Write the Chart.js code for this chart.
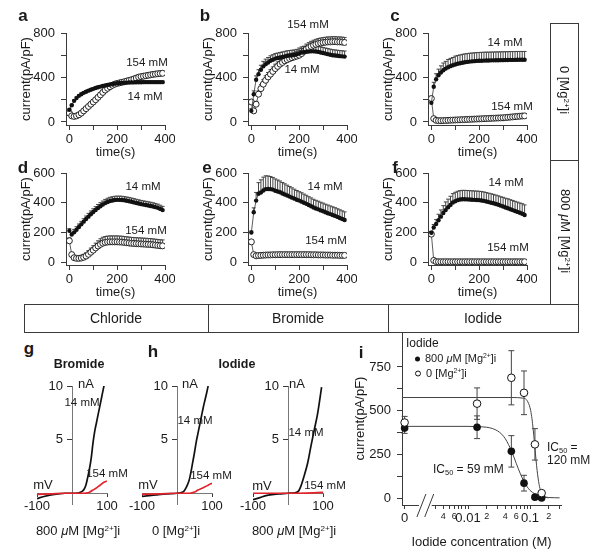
<!DOCTYPE html>
<html>
<head>
<meta charset="utf-8">
<title>Halide currents and [Mg2+]i</title>
<script src="https://cdn.jsdelivr.net/npm/chart.js@4.4.1/dist/chart.umd.min.js"></script>
<style>
  body { margin: 0; background: #fff; }
  #fig { position: relative; width: 600px; height: 558px; overflow: hidden; font-family: "Liberation Sans", Arial, Helvetica, sans-serif; color: #1a1a1a; }
  #fig canvas { position: absolute; }
  .t { position: absolute; white-space: nowrap; line-height: 1; transform: translate(-50%, -50%); }
  .t.l { transform: translate(0, -50%); }
  .pl { font-weight: bold; font-size: 17px; }
  .mm { font-size: 11.5px; }
  .hd { font-weight: bold; font-size: 12.5px; }
  .cap { font-size: 13px; }
  .box { position: absolute; border: 1px solid #3a3a3a; box-sizing: border-box; }
  .ln { position: absolute; background: #3a3a3a; }
  sup { font-size: 0.62em; position: relative; top: -0.55em; vertical-align: baseline; line-height: 0; }
  sub { font-size: 0.62em; position: relative; top: 0.3em; vertical-align: baseline; line-height: 0; }
  .dot { display: inline-block; width: 5px; height: 5px; border-radius: 50%; background: #111; margin-right: 5px; vertical-align: middle; }
  .ring { display: inline-block; width: 4px; height: 4px; border-radius: 50%; border: 1px solid #111; margin-right: 5px; vertical-align: middle; }
</style>
</head>
<body>
<div id="fig"></div>
<script>
// --- time course panels a-f: one point every 10 s ---
const TIME = [0,10,20,30,40,50,60,70,80,90,100,110,120,130,140,150,160,170,180,190,200,210,220,230,240,250,260,270,280,290,300,310,320,330,340,350,360,370,380,390];

// a: chloride, 0 [Mg2+]i
const A_14      = [110,150,190,215,235,250,262,272,282,290,298,305,312,318,323,328,333,337,341,345,348,350,352,353,354,355,356,356,357,357,357,358,358,358,358,358,358,358,358,358];
const A_14_ERR  = [6,8,10,10,10,10,10,10,10,10,10,10,10,10,10,10,10,10,10,10,10,10,10,10,10,10,10,10,10,10,10,10,10,10,10,10,10,10,10,10];
const A_154     = [80,55,50,55,65,80,100,120,140,160,180,200,222,244,266,287,303,317,330,340,347,352,357,362,368,374,380,387,395,403,408,412,416,420,424,428,431,434,436,438];
const A_154_ERR = [8,8,8,8,10,10,12,12,14,14,15,15,15,15,16,16,16,16,16,16,16,16,16,16,16,16,16,16,16,16,16,16,16,16,16,16,16,16,16,16];

// b: bromide, 0 [Mg2+]i
const B_14      = [100,250,380,430,470,500,520,535,550,560,570,575,580,585,590,595,598,600,603,608,615,625,630,632,634,635,635,634,630,625,620,615,610,605,600,598,595,592,590,588];
const B_14_ERR  = [20,30,35,40,40,45,45,45,45,45,45,45,45,45,45,45,45,45,45,45,50,50,50,50,50,50,50,50,50,50,50,50,50,50,50,50,50,50,50,50];
const B_154     = [180,100,160,250,300,340,375,405,430,455,480,500,520,535,550,560,570,578,585,592,600,615,635,655,668,680,690,698,705,710,714,717,720,720,722,722,720,720,718,715];
const B_154_ERR = [20,20,25,30,35,40,40,40,40,40,40,40,40,40,40,40,40,40,40,40,45,45,45,45,45,45,45,45,45,45,45,45,45,45,45,45,45,45,45,45];

// c: iodide, 0 [Mg2+]i
const C_14      = [172,317,384,420,445,465,480,492,502,510,517,523,528,533,537,540,543,545,547,549,550,551,552,553,553,554,554,555,555,556,556,557,557,558,558,558,559,559,559,559];
const C_14_ERR  = [20,40,50,55,60,65,65,70,70,70,75,75,75,75,75,75,75,75,75,75,75,75,75,75,75,75,75,75,75,75,75,75,75,75,75,75,75,75,75,75];
const C_154     = [211,30,15,12,12,13,14,15,16,17,18,19,20,21,22,23,24,25,26,27,28,29,30,31,32,33,34,35,36,37,38,40,42,44,46,48,50,52,54,55];
const C_154_ERR = [10,6,6,6,6,6,6,6,6,6,8,8,8,8,8,8,8,8,8,8,8,8,8,8,8,8,8,8,8,8,8,8,8,8,8,8,8,8,8,8];

// d: chloride, 800 uM [Mg2+]i
const D_14      = [210,185,200,218,236,254,272,290,306,322,337,351,364,376,387,397,405,411,415,418,419,419,418,416,413,410,406,402,398,394,390,387,384,381,378,374,370,365,358,350];
const D_14_ERR  = [15,15,20,20,20,20,20,20,22,22,22,22,24,24,24,25,25,25,25,25,25,25,25,25,25,25,25,25,25,25,25,25,25,25,25,25,25,25,25,25];
const D_154     = [143,50,29,25,25,27,32,40,52,66,80,95,108,119,127,132,135,136,136,136,136,135,134,132,130,128,126,125,124,123,122,121,120,119,118,116,114,112,110,109];
const D_154_ERR = [20,15,12,12,15,18,20,22,25,28,30,32,35,38,40,40,40,40,40,40,40,40,40,40,40,40,40,40,40,40,40,40,40,40,40,40,40,40,40,40];

// e: bromide, 800 uM [Mg2+]i
const E_14      = [199,335,414,460,469,482,491,492,491,488,480,475,470,462,455,448,441,434,427,420,414,407,400,392,384,376,368,361,355,348,342,335,329,323,317,311,304,297,290,283];
const E_14_ERR  = [10,30,55,75,85,90,90,88,85,82,80,78,76,74,72,70,68,66,64,62,60,60,58,58,56,56,55,55,55,55,55,55,55,55,55,55,55,55,55,55];
const E_154     = [136,50,42,44,45,46,47,48,48,49,49,50,50,50,50,50,50,50,50,50,50,50,50,50,50,49,49,49,48,48,48,47,47,47,46,46,46,45,45,45];
const E_154_ERR = [10,8,8,8,8,8,8,8,8,8,8,8,8,8,8,8,8,8,8,8,8,8,8,8,8,8,8,8,8,8,8,8,8,8,8,8,8,8,8,8];

// f: iodide, 800 uM [Mg2+]i
const F_14      = [197,233,256,282,306,330,350,369,385,401,410,417,421,423,423,422,421,420,419,418,417,415,412,408,404,400,396,391,386,380,374,368,362,356,350,344,338,332,325,317];
const F_14_ERR  = [10,20,30,40,45,50,55,55,58,60,60,60,60,60,60,60,60,60,60,60,60,60,60,60,60,60,60,60,60,60,62,62,64,64,65,65,66,66,68,68];
const F_154     = [188,11,3,2,2,2,2,2,2,2,2,2,2,2,2,2,2,2,2,2,2,2,2,2,2,2,2,2,2,2,2,2,2,2,2,2,2,2,2,2];
const F_154_ERR = [5,4,4,4,4,4,4,4,4,4,4,4,4,4,4,4,4,4,4,4,4,4,4,4,4,4,4,4,4,4,4,4,4,4,4,4,4,4,4,4];

const T_XTICKS = [0,100,200,300,400];
const T_XLABELS = [0,200,400];
const T_YTICKS_800 = [0,200,400,600,800];
const T_YLABELS_800 = [0,400,800];
const T_YTICKS_600 = [0,200,400,600];

// --- I-V curves g, h (mV, nA) ---
const G_MV_14  = [-100,-80,-60,-40,-20,0,20,30,35,40,45,50,55,60,65,70,75,80,85,90,92];
const G_NA_14  = [-0.5,-0.3,-0.15,-0.05,0,0,0.05,0.2,0.4,0.8,1.5,2.3,3.3,4.7,5.8,6.6,7.4,8.2,9.0,9.8,10.1];
const G_MV_154 = [-100,-60,-20,0,20,40,50,60,70,80,90,100];
const G_NA_154 = [-0.1,-0.05,0,0,0,0.02,0.1,0.3,0.5,0.75,1.0,1.15];
const H1_MV_14  = [-100,-60,-30,0,10,20,25,30,35,40,45,50,55,60,65,70,75,80,85,89];
const H1_NA_14  = [-0.3,-0.15,-0.05,0,0.05,0.2,0.45,0.8,1.25,2.0,2.9,3.8,4.8,5.6,6.4,7.2,8.0,8.7,9.4,10];
const H1_MV_154 = [-100,-50,0,30,40,50,60,70,80,90,100];
const H1_NA_154 = [-0.1,-0.05,0,0,0.02,0.12,0.3,0.45,0.6,0.78,0.93];
const H2_MV_14  = [-100,-80,-60,-40,-20,0,20,30,36,45,56,65,75,85,96];
const H2_NA_14  = [-0.6,-0.4,-0.2,-0.1,-0.05,0,0.05,0.2,0.6,1.5,2.8,4.3,5.9,7.5,9.9];
const H2_MV_154 = [-100,-50,0,50,100];
const H2_NA_154 = [0,0,0,0.02,0.08];
const IV_XTICKS = [-100,100];
const IV_YTICKS = [5,10];

// --- i: dose response, iodide (M) ---
const I_CONC    = [0,0.014,0.05,0.08,0.12,0.154];
const I_800     = [400,405,267,85,5,0];
const I_800_ERR = [30,65,90,45,10,5];
const I_0MG     = [432,540,688,602,307,28];
const I_0MG_ERR = [35,90,155,125,90,10];
const FIT800_X = [0.000862,0.01,0.015,0.02,0.025,0.03,0.035,0.04,0.045,0.05,0.055,0.06,0.07,0.08,0.09,0.1,0.12,0.15,0.2,0.3];
const FIT800_Y = [410,410,408,405,397,384,365,339,306,271,234,198,138,94,64,44,23,10,3,1];
const FIT0_X = [0.000862,0.01,0.05,0.08,0.09,0.1,0.105,0.11,0.115,0.12,0.125,0.13,0.14,0.15,0.16,0.18,0.2];
const FIT0_Y = [575,575,575,571,557,517,479,425,359,287,218,159,78,37,18,4,1];
const ZERO_AT = 0.00095;           // where the "0" concentration sits, left of the axis break
const I_XTICKS = [ZERO_AT,0.003,0.004,0.005,0.006,0.007,0.008,0.009,0.01,0.02,0.03,0.04,0.05,0.06,0.07,0.08,0.09,0.1,0.2,0.3];
const I_XLABELS = { 0.004: '4', 0.006: '6', 0.01: '0.01', 0.02: '2', 0.04: '4', 0.06: '6', 0.1: '0.1', 0.2: '2' };
const I_YTICKS = [0,125,250,375,500,625,750];
const I_YLABELS = [0,250,500,750];

// --- style ---
const FONT = '"Liberation Sans", Arial, Helvetica, sans-serif';
const AXIS = '#3a3a3a';
const TXT = '#1a1a1a';
const RED = '#e2232b';
Chart.defaults.font.family = FONT;
Chart.defaults.color = TXT;

const fig = document.getElementById('fig');

function makeCanvas(left, top, w, h) {
  const c = document.createElement('canvas');
  c.width = w; c.height = h;
  c.style.left = left + 'px'; c.style.top = top + 'px';
  fig.appendChild(c);
  return c;
}

function put(html, x, y, cls, extra) {
  const d = document.createElement('div');
  d.className = 't ' + (cls || '');
  d.style.left = x + 'px';
  d.style.top = y + 'px';
  if (extra) Object.assign(d.style, extra);
  d.innerHTML = html;
  fig.appendChild(d);
  return d;
}

// keep axis boxes at a fixed size so the plot areas line up with the figure
function fixBox(size) {
  return s => {
    if (size != null) { if (s.isHorizontal()) s.height = size; else s.width = size; }
    s.paddingLeft = s.paddingRight = s.paddingTop = s.paddingBottom = 0;
  };
}
function setTicks(list) {
  return s => { s.ticks = list.map(v => ({ value: v })); };
}

const errorBars = {
  id: 'errorBars',
  beforeDatasetsDraw(chart) {
    const ctx = chart.ctx, ys = chart.scales.y;
    chart.data.datasets.forEach((ds, i) => {
      if (!ds.err) return;
      const meta = chart.getDatasetMeta(i);
      ctx.save();
      ctx.strokeStyle = ds.errColor || '#444';
      ctx.lineWidth = 1;
      meta.data.forEach((pt, j) => {
        const v = ds.data[j].y, e = ds.err[j];
        const hi = ys.getPixelForValue(v + e);
        const lo = ds.errBoth ? ys.getPixelForValue(v - e) : pt.y;
        const c = ds.capHalf || 2;
        ctx.beginPath();
        ctx.moveTo(pt.x, lo); ctx.lineTo(pt.x, hi);
        ctx.moveTo(pt.x - c, hi); ctx.lineTo(pt.x + c, hi);
        if (ds.errBoth) { ctx.moveTo(pt.x - c, lo); ctx.lineTo(pt.x + c, lo); }
        ctx.stroke();
      });
      ctx.restore();
    });
  }
};

const axisBreak = {
  id: 'axisBreak',
  afterDraw(chart, args, opts) {
    if (!opts || !opts.from) return;
    const ctx = chart.ctx, xs = chart.scales.x;
    const a = xs.getPixelForValue(opts.from), b = xs.getPixelForValue(opts.to);
    const y = chart.chartArea.bottom;
    ctx.save();
    ctx.fillStyle = '#fff';
    ctx.fillRect(a + 2, y - 2, b - a - 4, 4);
    ctx.strokeStyle = AXIS; ctx.lineWidth = 1;
    ctx.beginPath();
    ctx.moveTo(a, y + 12); ctx.lineTo(a + 9, y - 11);
    ctx.moveTo(b - 9, y + 12); ctx.lineTo(b, y - 11);
    ctx.stroke();
    ctx.restore();
  }
};

function pairs(xs, ys) { return ys.map((v, i) => ({ x: xs[i], y: v })); }

function series(vals, errs, solid) {
  return {
    data: pairs(TIME, vals),
    err: errs,
    showLine: true,
    borderColor: '#333',
    borderWidth: 0.8,
    pointRadius: solid ? 2.2 : 3,
    pointBackgroundColor: solid ? '#111' : '#fff',
    pointBorderColor: '#111',
    pointBorderWidth: solid ? 0 : 0.9
  };
}

function timePanel(left, top, yMin, yMax, yTicks, yLabels, filled, filledErr, open, openErr) {
  const cv = makeCanvas(left, top, 175, 165);
  return new Chart(cv, {
    type: 'line',
    data: { datasets: [series(filled, filledErr, true), series(open, openErr, false)] },
    options: {
      responsive: false, animation: false, events: [],
      layout: { padding: { top: 33, right: 10, bottom: 0, left: 0 } },
      plugins: { legend: { display: false }, tooltip: { enabled: false } },
      scales: {
        x: {
          type: 'linear', min: -14, max: 400,
          afterBuildTicks: setTicks(T_XTICKS), afterFit: fixBox(40),
          grid: { drawOnChartArea: false, tickLength: 5, color: AXIS },
          border: { color: AXIS },
          ticks: { autoSkip: false, maxRotation: 0, padding: 2, font: { size: 13 }, callback: v => T_XLABELS.includes(v) ? String(v) : '' },
          title: { display: true, text: 'time(s)', font: { size: 13 }, padding: { top: 0, bottom: 5 } }
        },
        y: {
          type: 'linear', min: yMin, max: yMax,
          afterBuildTicks: setTicks(yTicks), afterFit: fixBox(66),
          grid: { drawOnChartArea: false, tickLength: 5, color: AXIS },
          border: { color: AXIS },
          ticks: { autoSkip: false, padding: 6, font: { size: 13 }, callback: v => yLabels.includes(v) ? String(v) : '' },
          title: { display: true, text: 'current(pA/pF)', font: { size: 13 }, padding: { top: 19, bottom: 0 } }
        }
      }
    },
    plugins: [errorBars]
  });
}

timePanel(0,   0, -27, 800, T_YTICKS_800, T_YLABELS_800, A_14, A_14_ERR, A_154, A_154_ERR);
timePanel(182, 0, -27, 800, T_YTICKS_800, T_YLABELS_800, B_14, B_14_ERR, B_154, B_154_ERR);
timePanel(362, 0, -27, 800, T_YTICKS_800, T_YLABELS_800, C_14, C_14_ERR, C_154, C_154_ERR);
timePanel(0,   140, -20, 600, T_YTICKS_600, T_YTICKS_600, D_14, D_14_ERR, D_154, D_154_ERR);
timePanel(182, 140, -20, 600, T_YTICKS_600, T_YTICKS_600, E_14, E_14_ERR, E_154, E_154_ERR);
timePanel(362, 140, -20, 600, T_YTICKS_600, T_YTICKS_600, F_14, F_14_ERR, F_154, F_154_ERR);

function ivPanel(left, mv14, na14, mv154, na154) {
  const cv = makeCanvas(left, 370, 125, 150);
  return new Chart(cv, {
    type: 'line',
    data: {
      datasets: [
        { data: pairs(mv154, na154), borderColor: RED, borderWidth: 1.7, pointRadius: 0, cubicInterpolationMode: 'monotone' },
        { data: pairs(mv14, na14), borderColor: '#111', borderWidth: 1.7, pointRadius: 0, cubicInterpolationMode: 'monotone' }
      ]
    },
    options: {
      responsive: false, animation: false, events: [],
      layout: { padding: { top: 16, right: 18, bottom: 16, left: 37 } },
      plugins: { legend: { display: false }, tooltip: { enabled: false } },
      scales: {
        x: {
          type: 'linear', min: -100, max: 100, position: { y: 0 },
          afterBuildTicks: setTicks(IV_XTICKS), afterFit: fixBox(null),
          grid: { drawOnChartArea: false, tickLength: 3, color: AXIS },
          border: { color: '#777' },
          ticks: { autoSkip: false, maxRotation: 0, padding: 2, font: { size: 13 } }
        },
        y: {
          type: 'linear', min: -1, max: 10, position: { x: 0 },
          afterBuildTicks: setTicks(IV_YTICKS), afterFit: fixBox(null),
          grid: { drawOnChartArea: false, tickLength: 5, color: AXIS },
          border: { color: '#777' },
          // labels sit right-aligned on the centred axis, so pad them with spaces
          ticks: { autoSkip: false, padding: 2, font: { size: 13 }, callback: v => v + '\u2002\u2009' }
        }
      }
    }
  });
}

ivPanel(0,   G_MV_14,  G_NA_14,  G_MV_154,  G_NA_154);
ivPanel(105, H1_MV_14, H1_NA_14, H1_MV_154, H1_NA_154);
ivPanel(216, H2_MV_14, H2_NA_14, H2_MV_154, H2_NA_154);

// panel i
(function () {
  const cv = makeCanvas(340, 320, 255, 232);
  const at = c => (c === 0 ? ZERO_AT : c);
  const pts = (ys) => ys.map((v, k) => ({ x: at(I_CONC[k]), y: v }));
  new Chart(cv, {
    type: 'line',
    data: {
      datasets: [
        { data: pts(I_0MG), err: I_0MG_ERR, errBoth: true, capHalf: 3, showLine: false, clip: false, pointRadius: 3.8, pointBackgroundColor: '#fff', pointBorderColor: '#111', pointBorderWidth: 1 },
        { data: pts(I_800), err: I_800_ERR, errBoth: true, capHalf: 3, showLine: false, clip: false, pointRadius: 3.8, pointBackgroundColor: '#111', pointBorderColor: '#111', pointBorderWidth: 0 },
        { data: pairs(FIT800_X, FIT800_Y), borderColor: '#444', borderWidth: 1, pointRadius: 0, cubicInterpolationMode: 'monotone' },
        { data: pairs(FIT0_X, FIT0_Y), borderColor: '#444', borderWidth: 1, pointRadius: 0, cubicInterpolationMode: 'monotone' }
      ]
    },
    options: {
      responsive: false, animation: false, events: [],
      layout: { padding: { top: 12, right: 34, bottom: 0, left: 0 } },
      plugins: { legend: { display: false }, tooltip: { enabled: false }, axisBreak: { from: 0.0015, to: 0.0028 } },
      scales: {
        x: {
          type: 'logarithmic', min: 0.000862, max: 0.316,
          afterBuildTicks: setTicks(I_XTICKS), afterFit: fixBox(47),
          grid: { drawOnChartArea: false, tickLength: 4, color: AXIS },
          border: { color: AXIS },
          ticks: {
            autoSkip: false, maxRotation: 0, padding: 2,
            font: c => ({ size: (c.tick && (c.tick.value === ZERO_AT || c.tick.value === 0.01 || c.tick.value === 0.1)) ? 13 : 9 }),
            callback: v => v === ZERO_AT ? '0' : (I_XLABELS[v] || '')
          },
          title: { display: true, text: 'Iodide concentration (M)', font: { size: 13 }, padding: { top: 0, bottom: 2 } }
        },
        y: {
          type: 'linear', min: -40, max: 950,
          afterBuildTicks: setTicks(I_YTICKS), afterFit: fixBox(62),
          grid: { drawOnChartArea: false, tickLength: 5, color: AXIS },
          border: { color: AXIS },
          ticks: { autoSkip: false, padding: 6, font: { size: 13 }, callback: v => I_YLABELS.includes(v) ? String(v) : '' },
          title: { display: true, text: 'current(pA/pF)', font: { size: 13 }, padding: { top: 13, bottom: 0 } }
        }
      }
    },
    plugins: [errorBars, axisBreak]
  });
})();

// --- panel letters and annotations ---
put('a', 23, 15, 'pl'); put('b', 205, 15, 'pl'); put('c', 395, 15, 'pl');
put('d', 23, 167, 'pl'); put('e', 207, 167, 'pl'); put('f', 395, 167, 'pl');
put('g', 29, 348, 'pl'); put('h', 153, 351, 'pl'); put('i', 361, 352, 'pl');

put('154 mM', 147, 63, 'mm');  put('14 mM', 145, 97, 'mm');
put('154 mM', 308, 25, 'mm');  put('14 mM', 302, 70, 'mm');
put('14 mM', 505, 43, 'mm');   put('154 mM', 512, 107, 'mm');
put('14 mM', 143, 187, 'mm');  put('154 mM', 146, 231, 'mm');
put('14 mM', 325, 187, 'mm');  put('154 mM', 326, 241, 'mm');
put('14 mM', 506, 183, 'mm');  put('154 mM', 508, 248, 'mm');

// condition boxes
const mgBox = document.createElement('div');
mgBox.className = 'box';
Object.assign(mgBox.style, { left: '550px', top: '23px', width: '29px', height: '282px' });
fig.appendChild(mgBox);
const mgDiv = document.createElement('div');
mgDiv.className = 'ln';
Object.assign(mgDiv.style, { left: '550px', top: '160px', width: '29px', height: '1px' });
fig.appendChild(mgDiv);
put('0 [Mg<sup>2+</sup>]i', 564, 90, 'cap', { transform: 'translate(-50%,-50%) rotate(90deg)' });
put('800 <i>&mu;</i>M [Mg<sup>2+</sup>]i', 565, 231, 'cap', { transform: 'translate(-50%,-50%) rotate(90deg)' });

const row = document.createElement('div');
row.className = 'box';
Object.assign(row.style, { left: '24px', top: '304px', width: '555px', height: '29px' });
fig.appendChild(row);
[208, 388].forEach(x => {
  const d = document.createElement('div');
  d.className = 'ln';
  Object.assign(d.style, { left: x + 'px', top: '304px', width: '1px', height: '29px' });
  fig.appendChild(d);
});
put('Chloride', 116, 318, 'cap', { fontSize: '14px' });
put('Bromide', 298, 318, 'cap', { fontSize: '14px' });
put('Iodide', 483, 318, 'cap', { fontSize: '14px' });

// I-V labels
put('Bromide', 79, 364, 'hd'); put('Iodide', 237, 364, 'hd');
put('nA', 86, 383, 'cap'); put('nA', 190, 383, 'cap'); put('nA', 297, 383, 'cap');
put('mV', 43, 484, 'cap'); put('mV', 148, 484, 'cap'); put('mV', 262, 485, 'cap');
put('14 mM', 82, 403, 'mm'); put('14 mM', 195, 421, 'mm'); put('14 mM', 306, 433, 'mm');
put('154 mM', 107, 474, 'mm'); put('154 mM', 211, 476, 'mm'); put('154 mM', 325, 486, 'mm');
put('800 <i>&mu;</i>M [Mg<sup>2+</sup>]i', 78, 530, 'cap');
put('0 [Mg<sup>2+</sup>]i', 176, 530, 'cap');
put('800 <i>&mu;</i>M [Mg<sup>2+</sup>]i', 294, 530, 'cap');

// panel i legend and IC50 notes
put('Iodide', 406, 343, 'l', { fontSize: '12px' });
put('<span class="dot"></span>800 <i>&mu;</i>M [Mg<sup>2+</sup>]i', 415, 358, 'l', { fontSize: '11px' });
put('<span class="ring"></span>0 [Mg<sup>2+</sup>]i', 415, 373, 'l', { fontSize: '11px' });
put('IC<sub>50</sub> = 59 mM', 433, 469, 'l', { fontSize: '12px' });
put('IC<sub>50</sub> =', 547, 447, 'l', { fontSize: '12px' });
put('120 mM', 547, 460, 'l', { fontSize: '12px' });
</script>
</body>
</html>
